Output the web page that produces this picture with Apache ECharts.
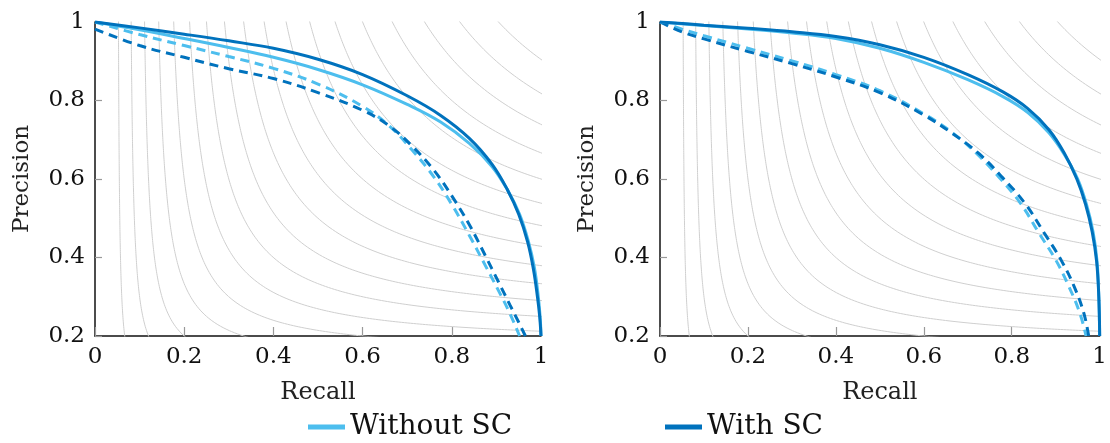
<!DOCTYPE html>
<html>
<head>
<meta charset="utf-8">
<script src="https://cdn.jsdelivr.net/npm/echarts@6/dist/echarts.min.js"></script>
<style>
html,body{margin:0;padding:0;background:#fff;}
#chart{width:1110px;height:443px;}
</style>
</head>
<body>
<div id="chart"></div>
<script>
// ---- Data ----
const xTicks = [0, 0.2, 0.4, 0.6, 0.8, 1];
const yTicks = [0.2, 0.4, 0.6, 0.8, 1];
const isoF1Levels = [0.1, 0.15, 0.2, 0.25, 0.3, 0.35, 0.4, 0.45, 0.5, 0.55, 0.6, 0.65, 0.7, 0.75, 0.8, 0.85, 0.9, 0.95];

// Left panel
const leftWithR    = [0, 0.1, 0.2, 0.3, 0.4, 0.5, 0.6, 0.7, 0.775, 0.84, 0.89, 0.925, 0.95, 0.97, 0.983, 0.992, 0.997, 1.0];
const leftWithP    = [1.0, 0.985, 0.969, 0.952, 0.933, 0.905, 0.866, 0.812, 0.762, 0.703, 0.638, 0.572, 0.51, 0.44, 0.37, 0.30, 0.25, 0.2];
const leftWithoutR = [0, 0.1, 0.2, 0.3, 0.4, 0.5, 0.6, 0.7, 0.775, 0.84, 0.89, 0.925, 0.952, 0.972, 0.985, 0.993, 0.998, 1.0];
const leftWithoutP = [1.0, 0.98, 0.958, 0.935, 0.91, 0.879, 0.84, 0.79, 0.745, 0.69, 0.632, 0.572, 0.51, 0.44, 0.375, 0.31, 0.25, 0.2];
const leftWithDashR    = [0, 0.1, 0.2, 0.3, 0.4, 0.5, 0.6, 0.66, 0.71, 0.76, 0.8, 0.84, 0.875, 0.905, 0.93, 0.95, 0.965];
const leftWithDashP    = [0.982, 0.94, 0.91, 0.881, 0.856, 0.82, 0.775, 0.735, 0.685, 0.622, 0.557, 0.482, 0.405, 0.337, 0.28, 0.235, 0.2];
const leftWithoutDashR = [0, 0.1, 0.2, 0.3, 0.4, 0.5, 0.6, 0.66, 0.71, 0.76, 0.8, 0.84, 0.875, 0.905, 0.93, 0.952];
const leftWithoutDashP = [1.0, 0.968, 0.94, 0.912, 0.882, 0.842, 0.785, 0.735, 0.675, 0.605, 0.535, 0.455, 0.38, 0.315, 0.258, 0.2];

// Right panel
const rightWithR    = [0, 0.1, 0.2, 0.3, 0.4, 0.5, 0.6, 0.7, 0.78, 0.836, 0.885, 0.92, 0.948, 0.968, 0.983, 0.993, 0.998, 1.0];
const rightWithP    = [1.0, 0.992, 0.984, 0.975, 0.963, 0.942, 0.91, 0.866, 0.822, 0.78, 0.725, 0.665, 0.6, 0.535, 0.465, 0.39, 0.3, 0.2];
const rightWithoutR = [0, 0.1, 0.2, 0.3, 0.4, 0.5, 0.6, 0.7, 0.78, 0.836, 0.885, 0.921, 0.95, 0.97, 0.985, 0.994, 0.998, 1.0];
const rightWithoutP = [1.0, 0.991, 0.982, 0.972, 0.958, 0.933, 0.897, 0.853, 0.81, 0.77, 0.717, 0.66, 0.6, 0.535, 0.465, 0.39, 0.3, 0.2];
const rightWithDashR    = [0, 0.05, 0.1, 0.2, 0.3, 0.4, 0.5, 0.6, 0.665, 0.725, 0.777, 0.83, 0.874, 0.912, 0.942, 0.964, 0.975];
const rightWithDashP    = [1.0, 0.975, 0.957, 0.925, 0.894, 0.86, 0.82, 0.763, 0.716, 0.665, 0.606, 0.538, 0.462, 0.394, 0.326, 0.258, 0.2];
const rightWithoutDashR = [0, 0.05, 0.1, 0.2, 0.3, 0.4, 0.5, 0.6, 0.665, 0.72, 0.77, 0.82, 0.862, 0.9, 0.93, 0.955, 0.969];
const rightWithoutDashP = [1.0, 0.982, 0.965, 0.933, 0.901, 0.866, 0.825, 0.766, 0.718, 0.665, 0.606, 0.538, 0.462, 0.394, 0.326, 0.258, 0.2];

// ---- Styles ----
const DARK = '#0072BD';
const LIGHT = '#4DBEEE';
const FONT = '"DejaVu Serif", "Liberation Serif", serif';

function zip(a, b) { return a.map((v, i) => [v, b[i]]); }

// iso-F1 reference curves: P = F R / (2R - F)
function isoCurve(F) {
  const pts = [];
  const N = 300;
  for (let i = 0; i <= N; i++) {
    const P = 0.18 + i * (0.84 / N);
    if (2 * P - F > 0) {
      const R = F * P / (2 * P - F);
      if (R >= -0.02 && R <= 1.02) pts.push([R, P]);
    }
  }
  for (let i = 0; i <= N; i++) {
    const R = i * (1.02 / N);
    if (2 * R - F > 0) {
      const P = F * R / (2 * R - F);
      if (P >= 0.18 && P <= 1.02) pts.push([R, P]);
    }
  }
  pts.sort((a, b) => a[0] - b[0] || b[1] - a[1]);
  return pts;
}

const chart = echarts.init(document.getElementById('chart'), null, { renderer: 'canvas' });

function makeAxes(idx) {
  const x = {
    type: 'value', gridIndex: idx, min: 0, max: 1, interval: 0.2,
    name: 'Recall', nameLocation: 'middle', nameGap: 45,
    nameTextStyle: { fontFamily: FONT, fontSize: 24, color: '#222' },
    axisLine: { show: true, onZero: false, lineStyle: { color: '#111', width: 1.5 } },
    axisTick: { show: true, inside: true, length: 9, lineStyle: { color: '#999', width: 1.2 } },
    axisLabel: { fontFamily: FONT, fontSize: 23, color: '#111', margin: 10,
      formatter: v => String(+v.toFixed(1)) },
    splitLine: { show: false }
  };
  const y = {
    type: 'value', gridIndex: idx, min: 0.2, max: 1, interval: 0.2,
    name: 'Precision', nameLocation: 'middle', nameGap: 61,
    nameTextStyle: { fontFamily: FONT, fontSize: 23, color: '#222' },
    axisLine: { show: true, onZero: false, lineStyle: { color: '#111', width: 1.5 } },
    axisTick: { show: true, inside: true, length: 7, lineStyle: { color: '#999', width: 1.2 } },
    axisLabel: { fontFamily: FONT, fontSize: 23, color: '#111', margin: 10,
      formatter: v => String(+v.toFixed(1)) },
    splitLine: { show: false }
  };
  return [x, y];
}

const [x0, y0] = makeAxes(0);
const [x1, y1] = makeAxes(1);

const series = [];
[0, 1].forEach(g => {
  isoF1Levels.forEach(F => {
    series.push({
      type: 'line', xAxisIndex: g, yAxisIndex: g, name: 'iso-F1 ' + F,
      data: isoCurve(F), showSymbol: false, symbol: 'none', silent: true, clip: true,
      lineStyle: { color: '#cfcfcf', width: 1 }, itemStyle: { color: '#cfcfcf' }, z: 1,
      animation: false
    });
  });
});

function curve(g, name, R, P, color, dashed) {
  return {
    type: 'line', xAxisIndex: g, yAxisIndex: g, name: name,
    data: zip(R, P), showSymbol: false, symbol: 'none', clip: true,
    smooth: 0.4,
    lineStyle: { color: color, width: 3, type: dashed ? [9, 6] : 'solid', cap: 'butt' },
    itemStyle: { color: color }, z: dashed ? 3 : 4, animation: false
  };
}

series.push(curve(0, 'Without SC dashed', leftWithoutDashR, leftWithoutDashP, LIGHT, true));
series.push(curve(0, 'With SC dashed', leftWithDashR, leftWithDashP, DARK, true));
series.push(curve(0, 'Without SC', leftWithoutR, leftWithoutP, LIGHT, false));
series.push(curve(0, 'With SC', leftWithR, leftWithP, DARK, false));
series.push(curve(1, 'Without SC dashed', rightWithoutDashR, rightWithoutDashP, LIGHT, true));
series.push(curve(1, 'With SC dashed', rightWithDashR, rightWithDashP, DARK, true));
series.push(curve(1, 'Without SC', rightWithoutR, rightWithoutP, LIGHT, false));
series.push(curve(1, 'With SC', rightWithR, rightWithP, DARK, false));

const legendCommon = {
  orient: 'horizontal', top: 413, icon: 'rect', itemWidth: 37, itemHeight: 5, itemGap: 10,
  textStyle: { fontFamily: FONT, fontSize: 28, color: '#111', padding: [0, 0, 0, 0] },
  selectedMode: false, padding: 0
};

chart.setOption({
  backgroundColor: '#fff',
  animation: false,
  grid: [
    { left: 95, top: 22, width: 446, height: 314, containLabel: false },
    { left: 660, top: 22, width: 446, height: 314, containLabel: false }
  ],
  xAxis: [x0, x1],
  yAxis: [y0, y1],
  legend: [
    Object.assign({}, legendCommon, { left: 308, data: ['Without SC'] }),
    Object.assign({}, legendCommon, { left: 665, data: ['With SC'] })
  ],
  series: series
});
</script>
</body>
</html>
